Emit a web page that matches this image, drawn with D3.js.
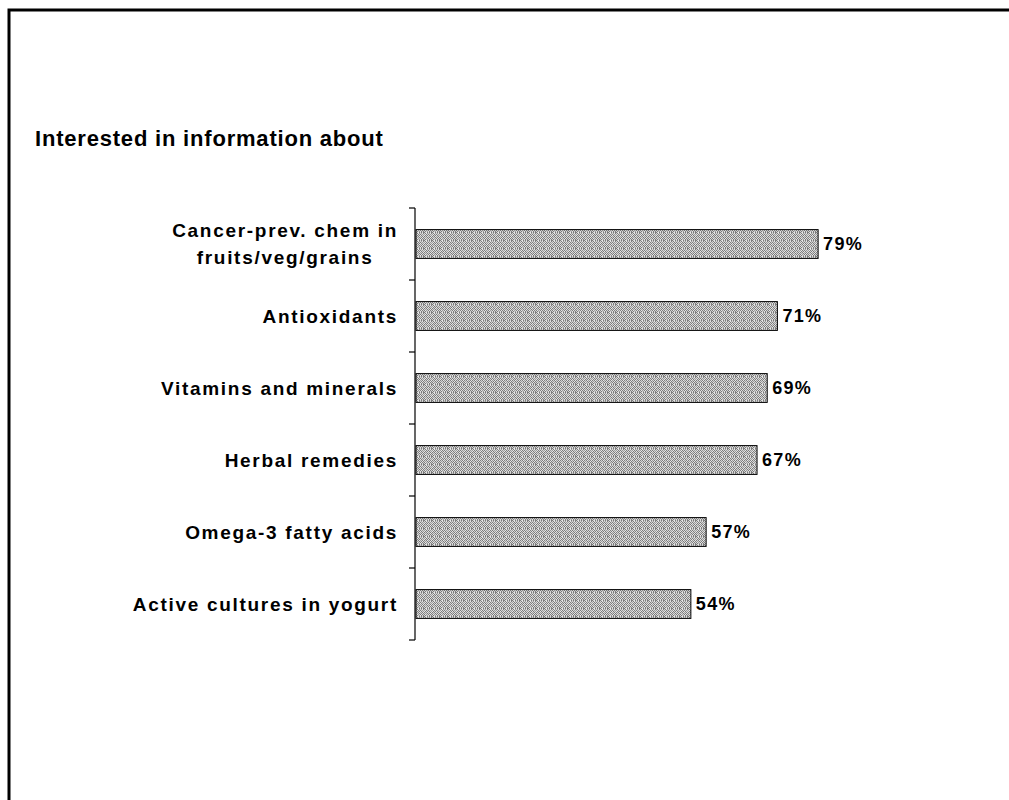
<!DOCTYPE html>
<html>
<head>
<meta charset="utf-8">
<script src="https://cdn.jsdelivr.net/npm/d3@7/dist/d3.min.js"></script>
<style>
  html, body { margin: 0; padding: 0; background: #fff; }
  svg { display: block; font-family: Arial, "Liberation Sans", Helvetica, sans-serif; }
</style>
</head>
<body>
<svg id="chart" width="1009" height="800"></svg>
<script>
// Share of respondents interested in information about each topic
const categories = [
  ["Cancer-prev. chem in", "fruits/veg/grains"],
  ["Antioxidants"],
  ["Vitamins and minerals"],
  ["Herbal remedies"],
  ["Omega-3 fatty acids"],
  ["Active cultures in yogurt"]
];
const values = [79, 71, 69, 67, 57, 54];
const valueLabels = ["79%", "71%", "69%", "67%", "57%", "54%"];
const title = "Interested in information about";

const svg = d3.select("#chart");

// Stippled grey fill for the bars: an 8x8 tile of dark/light dots
const tile = [
  "acdacaca",
  "cadbcbda",
  "bdacacbc",
  "dacadacb",
  "acadbcad",
  "cbcacada",
  "adbcadac",
  "cacbdaca"
];
const shade = { a: "#7c7c7c", b: "#9c9c9c", c: "#d4d4d4", d: "#e6e6e6" };
const defs = svg.append("defs");
const pat = defs.append("pattern")
  .attr("id", "stipple")
  .attr("patternUnits", "userSpaceOnUse")
  .attr("width", 8).attr("height", 8);
tile.forEach((row, j) => row.split("").forEach((ch, i) => {
  pat.append("rect").attr("x", i).attr("y", j).attr("width", 1).attr("height", 1)
    .attr("fill", shade[ch]);
}));

// Page frame (open at the right and bottom edges)
svg.append("path")
  .attr("d", "M9,800 V10 H1009")
  .attr("fill", "none")
  .attr("stroke", "#000")
  .attr("stroke-width", 3);

// Title
svg.append("text")
  .attr("x", 35).attr("y", 146)
  .attr("font-size", 22).attr("font-weight", "bold")
  .attr("letter-spacing", 0.8)
  .attr("fill", "#000")
  .text(title);

const idx = d3.range(categories.length);
const y = d3.scaleBand().domain(idx).range([208, 640]).paddingInner(0.6).paddingOuter(0.3);
const x = d3.scaleLinear().domain([0, 100]).range([416, 925]);

// Axis line with ticks at the category boundaries
const axisX = 415;
svg.append("line")
  .attr("x1", axisX).attr("x2", axisX)
  .attr("y1", y.range()[0]).attr("y2", y.range()[1])
  .attr("stroke", "#000").attr("stroke-width", 1.2);
const step = y.step();
svg.selectAll("line.tick")
  .data(d3.range(categories.length + 1))
  .join("line")
  .attr("class", "tick")
  .attr("x1", axisX - 6).attr("x2", axisX)
  .attr("y1", d => y.range()[0] + d * step)
  .attr("y2", d => y.range()[0] + d * step)
  .attr("stroke", "#000").attr("stroke-width", 1.2);

// Bars
svg.selectAll("rect.bar")
  .data(idx)
  .join("rect")
  .attr("class", "bar")
  .attr("x", x(0))
  .attr("y", d => y(d))
  .attr("width", d => x(values[d]) - x(0))
  .attr("height", y.bandwidth())
  .attr("fill", "url(#stipple)")
  .attr("stroke", "#000")
  .attr("stroke-width", 1);

// Value labels
svg.selectAll("text.val")
  .data(idx)
  .join("text")
  .attr("class", "val")
  .attr("x", d => x(values[d]) + 5)
  .attr("y", d => y(d) + y.bandwidth() / 2)
  .attr("dy", "0.36em")
  .attr("font-size", 18).attr("font-weight", "bold")
  .attr("letter-spacing", 1.3)
  .text(d => valueLabels[d]);

// Category labels: block right-aligned to the axis, lines centred within the block
const labelRight = 398;
const lineH = 27;
idx.forEach(d => {
  const lines = categories[d];
  const g = svg.append("g");
  const cy = y(d) + y.bandwidth() / 2;
  const texts = lines.map((s, i) => g.append("text")
    .attr("y", cy + (i - (lines.length - 1) / 2) * lineH)
    .attr("dy", "0.36em")
    .attr("font-size", 19).attr("font-weight", "bold")
    .attr("letter-spacing", 1.7)
    .attr("text-anchor", "middle")
    .text(s));
  const widths = texts.map(t => t.node().getComputedTextLength());
  const w = d3.max(widths);
  texts.forEach(t => t.attr("x", labelRight - w / 2));
});
</script>
</body>
</html>
